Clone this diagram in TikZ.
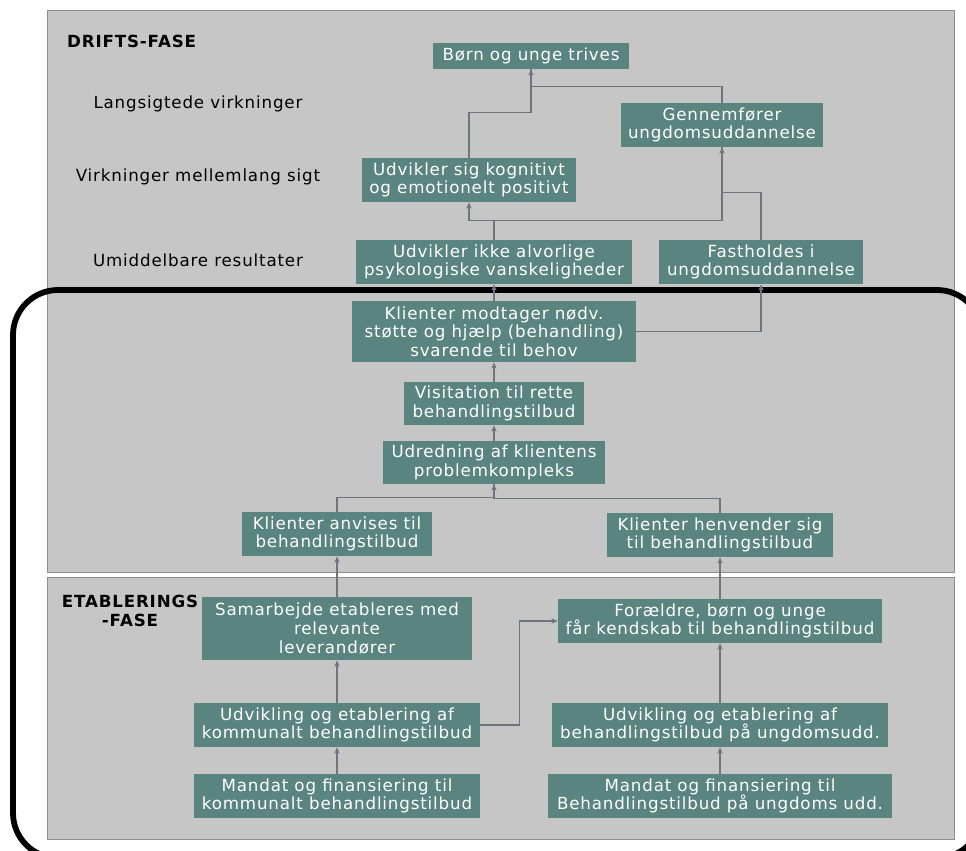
\documentclass[tikz,border=0pt]{standalone}
\usepackage{fontspec}
\setmainfont{DejaVu Sans}[LetterSpace=5]
\usepackage{tikz}
\usetikzlibrary{arrows.meta,positioning,calc}
\usepackage{xcolor}
\definecolor{boxteal}{RGB}{89,132,128}
\definecolor{panelgray}{RGB}{198,198,198}
\definecolor{paneledge}{RGB}{140,140,140}
\definecolor{linkgray}{RGB}{110,116,128}

\begin{document}
\begin{tikzpicture}[x=0.02cm,y=-0.02cm,
    box/.style={fill=boxteal,text=white,align=center,inner sep=1pt,minimum height=0.88cm,font=\fontsize{9.5}{10.6}\selectfont},
    lvl/.style={align=center,font=\fontsize{9.5}{10.6}\selectfont},
    link/.style={draw=linkgray,line width=0.6pt},
    arr/.style={link,-{Stealth[length=3.6pt,width=3pt]}}]
    \useasboundingbox (0,0) rectangle (966,851);
    \clip (0,0) rectangle (966,851);
    % panels
    \draw[fill=panelgray,draw=paneledge] (47,10) rectangle (954,572);
    \draw[fill=panelgray,draw=paneledge] (47,577) rectangle (954,839);
    \draw[line width=3.3pt,rounded corners=0.9cm] (13,290) rectangle (982,858);
    % phase and level labels
    \node[lvl,font=\fontsize{9.5}{10.6}\selectfont\bfseries,anchor=west] (drift) at (61,41) {DRIFTS-FASE};
    \node[lvl] (lang) at (198,104) {Langsigtede virkninger};
    \node[lvl] (mellem) at (198,177) {Virkninger mellemlang sigt};
    \node[lvl] (umid) at (198,260) {Umiddelbare resultater};
    \node[lvl,font=\fontsize{9.5}{10.6}\selectfont\bfseries] (etab) at (130,611) {ETABLERINGS\\-FASE};
    % drifts-fase
    \node[box,minimum width=3.94cm,minimum height=0.52cm] (trives) at (531,56) {Børn og unge trives};
    \node[box,minimum width=4.06cm] (gennem) at (722,125) {Gennemfører\\ungdomsuddannelse};
    \node[box,minimum width=4.3cm] (kogn) at (469,180) {Udvikler sig kognitivt\\og emotionelt positivt};
    \node[box,minimum width=5.54cm] (ikke) at (494,262) {Udvikler ikke alvorlige\\psykologiske vanskeligheder};
    \node[box,minimum width=4.08cm] (fast) at (761,262) {Fastholdes i\\ungdomsuddannelse};
    \node[box,minimum width=5.68cm,minimum height=1.22cm] (modt) at (494,331.5) {Klienter modtager nødv.\\støtte og hjælp (behandling)\\svarende til behov};
    \node[box,minimum width=3.6cm,minimum height=0.86cm] (visit) at (494,403.5) {Visitation til rette\\behandlingstilbud};
    \node[box,minimum width=4.44cm,minimum height=0.86cm] (udred) at (494,462.5) {Udredning af klientens\\problemkompleks};
    \node[box,minimum width=3.82cm] (anvis) at (337,534) {Klienter anvises til\\behandlingstilbud};
    \node[box,minimum width=4.54cm] (henv) at (720,535) {Klienter henvender sig\\til behandlingstilbud};
    % etablerings-fase
    \node[box,minimum width=5.4cm,minimum height=1.26cm] (samar) at (337,628.5) {Samarbejde etableres med\\relevante\\leverandører};
    \node[box,minimum width=6.48cm] (foraeld) at (720,621) {Forældre, børn og unge\\får kendskab til behandlingstilbud};
    \node[box,minimum width=5.72cm] (udvk) at (337,725) {Udvikling og etablering af\\kommunalt behandlingstilbud};
    \node[box,minimum width=6.72cm] (udvu) at (720,725) {Udvikling og etablering af\\behandlingstilbud på ungdomsudd.};
    \node[box,minimum width=5.72cm] (mandk) at (337,796) {Mandat og finansiering til\\kommunalt behandlingstilbud};
    \node[box,minimum width=6.9cm] (mandu) at (720,796) {Mandat og finansiering til\\Behandlingstilbud på ungdoms udd.};
    % connectors
    \draw[arr] (kogn.north) -- ++(0,-45) -| (trives.south);
    \draw[link] (gennem.north) -- ++(0,-16) -| (trives.south);
    \draw[arr] (ikke.north) -- ++(0,-19) -| (kogn.south);
    \draw[arr] (ikke.north) -- ++(0,-19) -| (gennem.south);
    \draw[link] (fast.north) -- ++(0,-47) -| (gennem.south);
    \draw[arr] (modt.north) -- (ikke.south);
    \draw[arr] (modt.east) -| (fast.south);
    \draw[arr] (visit.north) -- (modt.south);
    \draw[arr] (udred.north) -- (visit.south);
    \draw[arr] (anvis.north) -- ++(0,-14) -| (udred.south);
    \draw[link] (henv.north) -- ++(0,-14) -| (udred.south);
    \draw[arr] (samar.north) -- (anvis.south);
    \draw[arr] (foraeld.north) -- (henv.south);
    \draw[arr] (udvk.north) -- (samar.south);
    \draw[arr] (udvk.east) -- ++(39,0) |- (foraeld.west);
    \draw[arr] (udvu.north) -- (foraeld.south);
    \draw[arr] (mandk.north) -- (udvk.south);
    \draw[arr] (mandu.north) -- (udvu.south);
\end{tikzpicture}
\end{document}
